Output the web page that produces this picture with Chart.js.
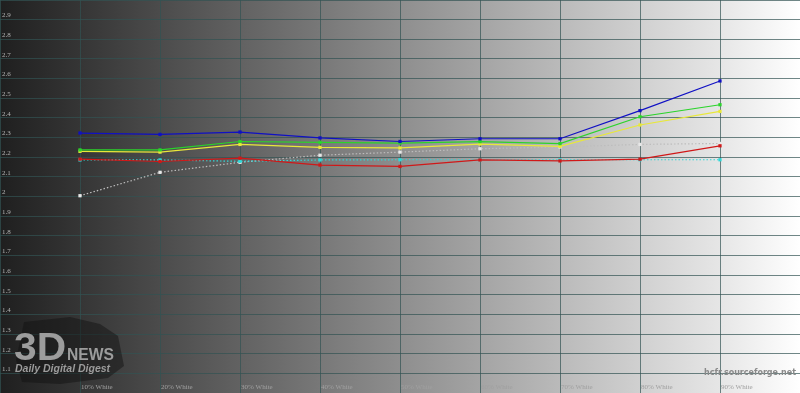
<!DOCTYPE html>
<html>
<head>
<meta charset="utf-8">
<script src="https://cdn.jsdelivr.net/npm/chart.js@4/dist/chart.umd.min.js"></script>
<style>
html,body{margin:0;padding:0;background:#fff;}
canvas{display:block;}
</style>
</head>
<body>
<canvas id="c" width="800" height="393"></canvas>
<script>
const levels = [10, 20, 30, 40, 50, 60, 70, 80, 90];
const xLabels = ["10% White","20% White","30% White","40% White","50% White","60% White","70% White","80% White","90% White"];
const yTickLabels = ["1.1","1.2","1.3","1.4","1.5","1.6","1.7","1.8","1.9","2","2.1","2.2","2.3","2.4","2.5","2.6","2.7","2.8","2.9"];

const blueGamma   = [2.323, 2.316, 2.328, 2.298, 2.280, 2.294, 2.294, 2.437, 2.588];
const greenGamma  = [2.237, 2.237, 2.280, 2.275, 2.272, 2.279, 2.269, 2.406, 2.467];
const yellowGamma = [2.230, 2.226, 2.265, 2.250, 2.247, 2.267, 2.255, 2.364, 2.433];
const redGamma    = [2.190, 2.178, 2.195, 2.160, 2.153, 2.186, 2.181, 2.190, 2.258];
const cyanGamma   = [2.186, 2.186, 2.179, 2.186, 2.187, 2.187, 2.187, 2.187, 2.187];
const greyGamma   = [2.004, 2.123, 2.174, 2.210, 2.226, 2.243, 2.252, 2.265, 2.270];

function pts(arr){ return levels.map((x,i)=>({x:x, y:arr[i]})); }

const bgPlugin = {
  id:'bg',
  beforeDraw(chart){
    const {ctx, width, height} = chart;
    const g = ctx.createLinearGradient(0,0,width,0);
    g.addColorStop(0,'#1f1f1f');
    g.addColorStop(0.5,'#8e8e8e');
    g.addColorStop(0.9,'#e6e6e6');
    g.addColorStop(1,'#ffffff');
    ctx.save();
    ctx.fillStyle = g;
    ctx.fillRect(0,0,width,height);
    ctx.restore();
  }
};

const labelPlugin = {
  id:'labels',
  beforeDatasetsDraw(chart){
    const {ctx} = chart;
    const xs = chart.scales.x, ys = chart.scales.y;
    ctx.save();
    ctx.font = '7px "Liberation Serif", serif';
    ctx.fillStyle = '#b4b4b4';
    ctx.textAlign = 'left';
    ctx.textBaseline = 'middle';
    yTickLabels.forEach(t=>{
      const py = ys.getPixelForValue(parseFloat(t));
      ctx.fillText(t, 2, py-4);
    });
    ctx.fillStyle = '#a0a0a0';
    levels.forEach((lv,i)=>{
      const px = xs.getPixelForValue(lv);
      ctx.fillText(xLabels[i], px+1, 387);
    });
    // watermark logo
    ctx.fillStyle = 'rgba(15,15,15,0.45)';
    ctx.beginPath();
    ctx.moveTo(24,322); ctx.lineTo(70,317); ctx.lineTo(100,324); ctx.lineTo(118,336);
    ctx.lineTo(124,366); ctx.lineTo(108,378); ctx.lineTo(60,384); ctx.lineTo(22,382);
    ctx.lineTo(16,360); ctx.closePath(); ctx.fill();
    ctx.fillStyle = '#9c9c9c';
    ctx.textBaseline = 'alphabetic';
    ctx.font = 'bold 40px "Liberation Sans", Arial, sans-serif';
    ctx.save(); ctx.translate(14,360); ctx.scale(1.02,0.95); ctx.fillText('3D',0,0); ctx.restore();
    ctx.font = 'bold 17px "Liberation Sans", Arial, sans-serif';
    ctx.save(); ctx.translate(67,360); ctx.scale(0.92,1); ctx.fillText('NEWS',0,0); ctx.restore();
    ctx.font = 'italic bold 10.5px "Liberation Sans", Arial, sans-serif';
    ctx.fillText('Daily Digital Digest',15,372);
    ctx.fillStyle = '#8a8a8a';
    ctx.font = 'bold 8px "DejaVu Sans", sans-serif';
    ctx.textAlign = 'right';
    ctx.textBaseline = 'middle';
    ctx.fillText('hcfr.sourceforge.net', 796, 373);
    ctx.restore();
  }
};

function ds(label, data, color, dashed, ptColor){
  return {
    label, data: pts(data),
    borderColor: color, backgroundColor: ptColor || color,
    borderWidth: 1.2,
    borderDash: dashed ? [1.5,2] : [],
    pointStyle: 'rect', pointRadius: 2.3, pointBorderWidth: 0,
    tension: 0
  };
}

new Chart(document.getElementById('c'), {
  type: 'line',
  data: {
    datasets: [
      ds('Blue', blueGamma, '#1010c4', false),
      ds('Green', greenGamma, '#2ad42a', false),
      ds('Yellow', yellowGamma, '#e8e83a', false),
      ds('Red', redGamma, '#d01818', false),
      ds('Cyan', cyanGamma, '#30d8d8', true),
      ds('Grey', greyGamma, '#bdbdbd', true, '#e8e8e8')
    ]
  },
  options: {
    responsive: false,
    animation: false,
    layout: { padding: 0, autoPadding: false },
    plugins: { legend: {display:false}, tooltip: {enabled:false} },
    scales: {
      x: {
        type: 'linear', min: 0, max: 100,
        ticks: { display: false, stepSize: 10 },
        grid: { color: 'rgba(50,83,83,0.7)', lineWidth: 1, drawTicks: false },
        border: { display: false },
        afterFit(s){ s.height = 0; }
      },
      y: {
        type: 'linear', min: 1, max: 3,
        ticks: { display: false, stepSize: 0.1 },
        grid: { color: 'rgba(50,83,83,0.7)', lineWidth: 1, drawTicks: false },
        border: { display: false },
        afterFit(s){ s.width = 0; }
      }
    }
  },
  plugins: [bgPlugin, labelPlugin]
});
</script>
</body>
</html>
